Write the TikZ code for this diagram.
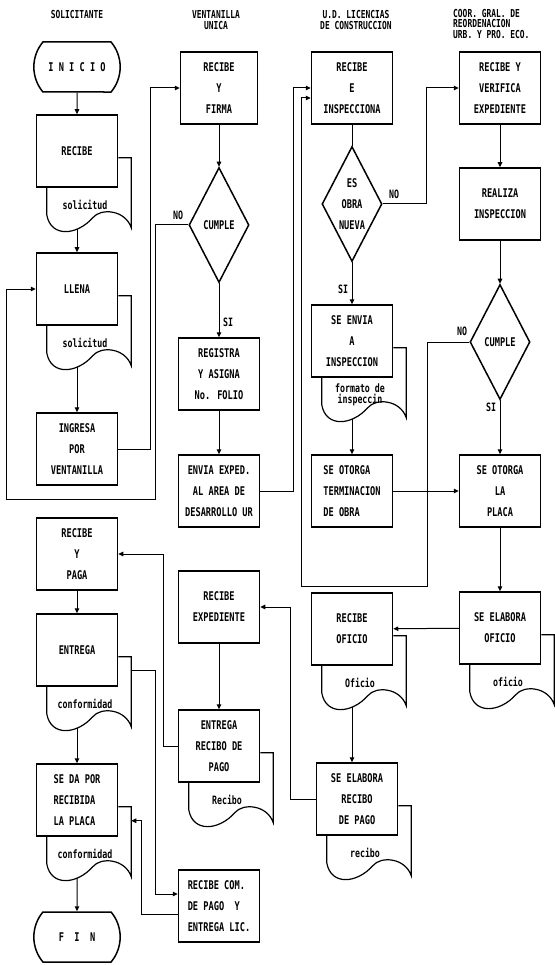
\documentclass[tikz,border=0pt]{standalone}
\usepackage{fontspec}
\newfontfamily\dotfont[FakeStretch=0.72]{DejaVu Sans Mono}
\usetikzlibrary{shapes.geometric,shapes.misc,arrows.meta,calc}

\newcommand{\docshape}[3]{%
\draw[doc] ($(#1.south west)+(11,0)$) -- ++(0,27) .. controls +(4,23) and +(-16,18) .. ++(46,3) .. controls +(8,-10) and +(-6,-18) .. ($(#1.south east)+(13,40)$) -- ($(#1.south east)+(13,-30)$) -- ($(#1.south east)+(0,-30)$);
\node[lbl] (#3) at ($(#1.south)+(8,17)$) {#2};
\coordinate (#3-b) at ($(#1.south)+(0,41)$);
\coordinate (#3-s) at ($(#1.south east)+(13,-16)$);
}

\begin{document}
\begin{tikzpicture}[x=1pt,y=-1pt,
box/.style={draw,line width=1.5pt,minimum width=81pt,minimum height=72pt,inner sep=1pt,align=center,font=\dotfont\bfseries\fontsize{12}{21}\selectfont},
term/.style={draw,line width=1.5pt,rounded rectangle,rounded rectangle arc length=80,minimum width=93pt,minimum height=50pt,font=\dotfont\bfseries\fontsize{12}{13}\selectfont},
dec/.style={draw,line width=1.5pt,diamond,aspect=0.5,inner sep=0pt,minimum width=60pt,minimum height=115pt,align=center,font=\dotfont\bfseries\fontsize{12}{21}\selectfont},
doc/.style={line width=1.2pt},
lbl/.style={inner sep=0pt,align=center,font=\dotfont\bfseries\fontsize{11.5}{11.5}\selectfont},
hdr/.style={inner sep=0pt,align=center,font=\dotfont\bfseries\fontsize{11}{10.5}\selectfont},
con/.style={line width=1pt},
arr/.style={con,-{Triangle[length=5pt,width=4.5pt]}}]
\path[use as bounding box] (0,0) rectangle (554,965);
\node[hdr] (h1) at (77,15) {SOLICITANTE};
\node[hdr] (h2) at (216,20) {VENTANILLA\\UNICA};
\node[hdr] (h3) at (356,20) {U.D. LICENCIAS\\DE CONSTRUCCION};
\node[hdr,align=left,anchor=north west] (h4) at (453,9) {COOR. GRAL. DE\\REORDENACION\\URB. Y PRO. ECO.};
\node[term] (inicio) at (77,67) {I N I C I O};
\node[box] (recibe) at (77,151) {RECIBE};
\node[box] (llena) at (77,289) {LLENA};
\node[box] (ingresa) at (77,449) {INGRESA\\POR\\VENTANILLA};
\node[box] (paga) at (77,554) {RECIBE\\Y\\PAGA};
\node[box] (entrega) at (77,650) {ENTREGA};
\node[box,align=left] (seda) at (77,800) {SE DA POR\\RECIBIDA\\LA PLACA};
\node[term] (fin) at (77,937) {F\ \ I\ \ N};
\node[box,minimum width=77pt] (firma) at (219,88) {RECIBE\\Y\\FIRMA};
\node[dec] (cumple) at (219,225) {CUMPLE};
\node[box] (registra) at (219,374) {REGISTRA\\Y ASIGNA\\No. FOLIO};
\node[box] (envia) at (219,491) {ENVIA EXPED.\\AL AREA DE\\DESARROLLO UR};
\node[box] (recexp) at (219,607) {RECIBE\\EXPEDIENTE};
\node[box] (entrec) at (219,746) {ENTREGA\\RECIBO DE\\PAGO};
\node[box,align=left] (recom) at (219,906) {RECIBE COM.\\DE PAGO\ \ Y\\ENTREGA LIC.};
\node[box] (insp) at (352,88) {RECIBE\\E\\INSPECCIONA};
\node[dec] (obra) at (352,204) {ES\\OBRA\\NUEVA};
\node[box] (envinsp) at (352,341) {SE ENVIA\\A\\INSPECCION};
\node[box,align=left] (termin) at (352,491) {SE OTORGA\\TERMINACION\\DE OBRA};
\node[box] (recof) at (352,629) {RECIBE\\OFICIO};
\node[box] (elabrec) at (357,799) {SE ELABORA\\RECIBO\\DE PAGO};
\node[box] (verif) at (500,88) {RECIBE Y\\VERIFICA\\EXPEDIENTE};
\node[box] (realiza) at (500,204) {REALIZA\\INSPECCION};
\node[dec] (cumple2) at (500,342) {CUMPLE};
\node[box] (placa) at (500,491) {SE OTORGA\\LA\\PLACA};
\node[box] (elabof) at (500,628) {SE ELABORA\\OFICIO};
\docshape{recibe}{solicitud}{d1}
\docshape{llena}{solicitud}{d2}
\docshape{envinsp}{formato de\\inspeccin}{d3}
\docshape{entrega}{conformidad}{d4}
\docshape{seda}{conformidad}{d5}
\docshape{recof}{Oficio}{d6}
\docshape{elabof}{oficio}{d7}
\docshape{entrec}{Recibo}{d8}
\docshape{elabrec}{recibo}{d9}
\node[lbl] (no1) at (178,215) {NO};
\node[lbl] (si1) at (228,322) {SI};
\node[lbl] (no2) at (394,194) {NO};
\node[lbl] (si2) at (343,289) {SI};
\node[lbl] (no3) at (462,331) {NO};
\node[lbl] (si3) at (491,407) {SI};
\draw[arr] (inicio) -- (recibe);
\draw[arr] (d1-b) -- (llena);
\draw[arr] (d2-b) -- (ingresa);
\draw[arr] (ingresa.east) -- ++(32,0) |- (firma.west);
\draw[arr] (firma) -- (cumple);
\draw[arr] (cumple) -- (registra);
\draw[arr] (cumple.west) -- ++(-33,0) -- ++(0,274) -- ++(-149,0) |- (llena.west);
\draw[arr] (registra) -- (envia);
\draw[arr] (envia.east) -- ++(33,0) |- (insp.west);
\draw[con] (insp) -- (obra);
\draw[arr] (obra.east) -- ++(44,0) |- (verif.west);
\draw[arr] (obra) -- (envinsp);
\draw[arr] (d3-b) -- (termin);
\draw[arr] (termin) -- (placa);
\draw[arr] (verif) -- (realiza);
\draw[arr] (realiza) -- (cumple2);
\draw[arr] (cumple2) -- (placa);
\draw[arr] (cumple2.west) -- ++(-42,0) -- ++(0,244) -- ++(-126,0) |- ($(insp.west)+(0,10)$);
\draw[arr] (placa) -- (elabof);
\draw[arr] (elabof) -- (recof);
\draw[arr] (d6-b) -- (d6-b |- elabrec.north);
\draw[arr] (elabrec.west) -- ++(-25,0) |- (recexp.east);
\draw[arr] (recexp) -- (entrec);
\draw[arr] (entrec.west) -- ++(-14,0) |- (paga.east);
\draw[arr] (paga) -- (entrega);
\draw[arr] (d4-b) -- (seda);
\draw[arr] (d4-s) -- ++(24,0) |- ($(recom.west)+(0,-12)$);
\draw[arr] ($(recom.west)+(0,8)$) -- ++(-36,0) |- (d5-s);
\draw[arr] (d5-b) -- (fin);
\end{tikzpicture}
\end{document}
